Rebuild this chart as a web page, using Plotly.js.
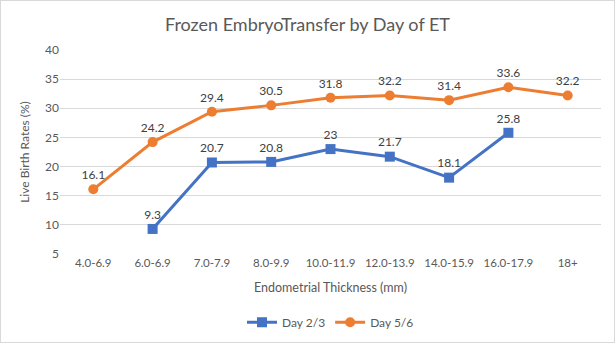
<!DOCTYPE html>
<html><head><meta charset="utf-8">
<script src="https://cdn.plot.ly/plotly-3.0.1.min.js"></script>
<style>
html,body{margin:0;padding:0;background:#fff;}
#wrap{position:absolute;left:0;top:0;width:613px;height:341px;border:1px solid #d9d9d9;}
#chart{position:absolute;left:0;top:0;width:613px;height:341px;}
</style></head>
<body><div id="wrap"><div id="chart"></div></div>
<script>
const categories = ["4.0-6.9","6.0-6.9","7.0-7.9","8.0-9.9","10.0-11.9","12.0-13.9","14.0-15.9","16.0-17.9","18+"];
const day23 = [null, 9.3, 20.7, 20.8, 23, 21.7, 18.1, 25.8, null];
const day56 = [16.1, 24.2, 29.4, 30.5, 31.8, 32.2, 31.4, 33.6, 32.2];
const labels23 = day23.map(v => v === null ? "" : String(v));
const labels56 = day56.map(v => String(v));
const font = "Lato, 'Open Sans', sans-serif";
const traces = [
  {x: categories, y: day23, name: "Day 2/3", type: "scatter", mode: "lines+markers+text",
   text: labels23, textposition: "top center", textfont: {family: font, size: 12, color: "#404040"},
   line: {color: "#4472C4", width: 3}, marker: {symbol: "square", size: 10, color: "#4472C4"}, cliponaxis: false},
  {x: categories, y: day56, name: "Day 5/6", type: "scatter", mode: "lines+markers+text",
   text: labels56, textposition: "top center", textfont: {family: font, size: 12, color: "#404040"},
   line: {color: "#ED7D31", width: 3}, marker: {symbol: "circle", size: 10, color: "#ED7D31"}, cliponaxis: false}
];
const layout = {
  width: 613, height: 341,
  margin: {l: 59, r: 13, t: 49, b: 88},
  paper_bgcolor: "rgba(0,0,0,0)", plot_bgcolor: "#fff",
  font: {family: font, color: "#595959", size: 12},
  title: {text: "Frozen EmbryoTransfer by Day of ET", font: {size: 18, color: "#595959", family: font}, x: 0.5, xanchor: "center", y: 0.93, yanchor: "middle"},
  xaxis: {type: "category", showgrid: false, zeroline: false, showline: false, ticks: "",
    tickfont: {size: 11.5, color: "#595959"}, automargin: false,
    title: {text: "Endometrial Thickness (mm)", font: {size: 12.5, color: "#595959"}, standoff: 15}},
  yaxis: {range: [5, 40], dtick: 5, tick0: 5, showgrid: true, gridcolor: "#d9d9d9", gridwidth: 1,
    zeroline: false, showline: false, ticks: "", ticklen: 0, tickfont: {size: 12, color: "#595959"}, automargin: false,
    title: {text: "Live Birth Rates (%)", font: {size: 12, color: "#595959"}, standoff: 12}},
  showlegend: true,
  legend: {orientation: "h", x: 0.5, xanchor: "center", yref: "container", y: 0.058, yanchor: "middle", font: {size: 12, color: "#595959"}, itemwidth: 30}
};
Plotly.newPlot("chart", traces, layout, {displayModeBar: false, staticPlot: true});
</script></body></html>
